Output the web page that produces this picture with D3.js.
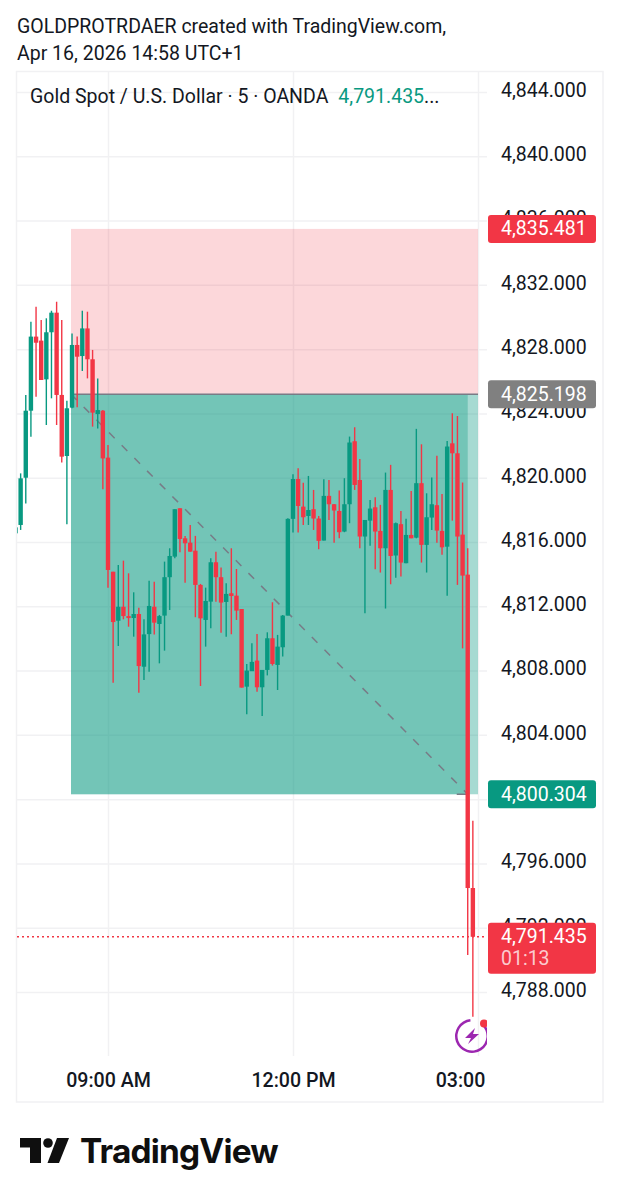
<!DOCTYPE html>
<html>
<head>
<meta charset="utf-8">
<script src="https://cdnjs.cloudflare.com/ajax/libs/d3/7.8.5/d3.min.js"></script>
<style>
  html, body { margin: 0; padding: 0; background: #fff; }
  svg { display: block; font-family: Roboto, sans-serif; }
</style>
</head>
<body>
<svg></svg>
<script>
// 5 min candles, first one is 07:30
const firstBar = 450;
const opens = [
  4816.54, 4817.06, 4820.00, 4824.17, 4828.78, 4828.53, 4826.12, 4829.05, 4830.27, 4825.15,
  4821.35, 4824.36, 4828.26, 4827.57, 4829.29, 4827.37, 4823.96, 4824.17, 4821.25, 4814.15,
  4811.10, 4811.97, 4811.39, 4811.27, 4811.52, 4808.24, 4810.27, 4811.97, 4810.90, 4811.42,
  4813.81, 4815.09, 4818.10, 4816.23, 4815.96, 4815.46, 4813.33, 4811.15, 4812.29, 4814.74,
  4813.81, 4812.27, 4812.81, 4812.66, 4811.83, 4807.00, 4807.96, 4808.62, 4806.96, 4808.04,
  4810.01, 4808.35, 4809.45, 4811.42, 4817.44, 4819.92, 4818.20, 4817.62, 4818.04, 4817.46,
  4816.09, 4818.87, 4818.35, 4817.93, 4816.65, 4818.35, 4822.27, 4819.86, 4816.34, 4817.33,
  4818.16, 4816.69, 4815.61, 4819.24, 4815.16, 4817.11, 4814.68, 4816.44, 4816.27, 4819.66,
  4815.82, 4817.52, 4818.29, 4816.69, 4815.71, 4822.14, 4821.52, 4816.46, 4813.97, 4794.47
];
const highs = [
  4817.06, 4820.27, 4825.15, 4829.71, 4830.64, 4829.81, 4829.92, 4830.39, 4830.95, 4829.81,
  4824.79, 4828.98, 4828.78, 4830.39, 4830.33, 4827.95, 4826.18, 4824.21, 4822.03, 4814.15,
  4814.57, 4814.84, 4814.05, 4812.87, 4811.91, 4811.19, 4813.59, 4813.53, 4811.46, 4814.78,
  4815.61, 4818.04, 4818.10, 4816.38, 4817.06, 4816.38, 4813.39, 4813.16, 4814.99, 4815.40,
  4814.41, 4813.43, 4815.61, 4814.32, 4811.83, 4808.41, 4809.70, 4810.28, 4808.04, 4810.38,
  4812.25, 4810.22, 4811.46, 4817.48, 4820.21, 4820.59, 4819.69, 4820.11, 4819.24, 4817.62,
  4819.91, 4819.86, 4818.37, 4819.20, 4819.97, 4822.56, 4823.14, 4821.17, 4817.37, 4818.62,
  4818.79, 4818.31, 4820.32, 4820.80, 4817.21, 4817.93, 4817.44, 4819.18, 4823.04, 4822.08,
  4819.03, 4820.01, 4821.36, 4818.99, 4822.29, 4824.01, 4823.84, 4819.70, 4815.61, 4798.66
];
const lows = [
  4816.23, 4816.75, 4818.40, 4822.55, 4825.04, 4826.08, 4823.28, 4824.94, 4823.28, 4820.94,
  4817.10, 4824.32, 4824.38, 4826.64, 4826.18, 4823.18, 4823.07, 4819.28, 4813.16, 4807.24,
  4809.53, 4811.19, 4810.73, 4810.11, 4806.62, 4807.41, 4807.93, 4810.25, 4808.45, 4809.24,
  4811.77, 4814.99, 4815.36, 4813.47, 4815.40, 4811.32, 4807.04, 4809.49, 4810.63, 4812.29,
  4810.36, 4810.11, 4810.26, 4811.15, 4806.94, 4805.28, 4808.00, 4806.69, 4805.18, 4807.70,
  4808.31, 4806.79, 4808.87, 4811.42, 4816.59, 4816.59, 4817.06, 4817.06, 4816.75, 4815.55,
  4816.09, 4817.37, 4815.96, 4816.23, 4816.61, 4817.17, 4819.24, 4815.61, 4811.57, 4815.76,
  4814.30, 4814.10, 4811.86, 4813.37, 4813.78, 4813.85, 4814.68, 4816.23, 4816.23, 4814.72,
  4814.10, 4816.75, 4815.96, 4815.20, 4812.65, 4817.33, 4813.33, 4809.38, 4790.30, 4786.46
];
const closes = [
  4816.91, 4819.96, 4824.17, 4828.78, 4828.40, 4826.08, 4829.05, 4830.27, 4825.15, 4821.31,
  4824.32, 4828.26, 4827.53, 4829.29, 4827.37, 4824.05, 4824.21, 4821.20, 4814.26, 4811.02,
  4811.97, 4811.39, 4811.27, 4811.52, 4808.28, 4810.25, 4812.02, 4810.98, 4811.39, 4813.81,
  4815.13, 4818.04, 4816.19, 4815.92, 4815.40, 4813.33, 4811.25, 4812.33, 4814.74, 4813.81,
  4812.23, 4812.77, 4812.64, 4811.73, 4806.94, 4808.00, 4808.54, 4806.96, 4808.04, 4810.01,
  4808.41, 4809.49, 4811.42, 4817.44, 4819.92, 4818.24, 4817.54, 4817.99, 4817.46, 4816.07,
  4818.87, 4818.35, 4817.96, 4816.61, 4818.35, 4822.19, 4819.55, 4816.34, 4817.37, 4818.08,
  4816.65, 4815.61, 4819.24, 4815.13, 4817.17, 4814.72, 4816.44, 4816.23, 4819.66, 4815.82,
  4817.54, 4818.35, 4816.71, 4815.67, 4821.94, 4821.52, 4816.34, 4813.91, 4794.47, 4791.435
];

const priceTicks = [4788, 4792, 4796, 4800, 4804, 4808, 4812, 4816, 4820, 4824, 4828, 4832, 4836, 4840, 4844];
const timeTicks = [540, 720, 900];
const timeLabels = ["09:00 AM", "12:00 PM", "03:00"];

// long position tool
const entry = 4825.198, stop = 4835.481, target = 4800.304, lastPrice = 4791.435;
const boxStart = 504, boxEnd = 900, boxInnerEnd = 890;

const RED = "#f23645", GREEN = "#089981", TEXT = "#131722", GRID = "#f1f1f3";

var bars = opens.map((o, i) => ({ t: firstBar + i * 5, o: o, h: highs[i], l: lows[i], c: closes[i] }));

var svg = d3.select("svg").attr("width", 620).attr("height", 1200);

var x = d3.scaleLinear().domain([540, 720]).range([108, 293]);
var y = d3.scaleLinear().domain([4788, 4844]).range([992, 92]);

svg.append("clipPath").attr("id", "pane")
  .append("rect").attr("x", 17).attr("y", 72).attr("width", 470).attr("height", 984);

// header
svg.append("text").attr("x", 17).attr("y", 33).attr("font-size", 19.5).attr("fill", TEXT)
  .text("GOLDPROTRDAER created with TradingView.com,");
svg.append("text").attr("x", 17).attr("y", 60).attr("font-size", 19.5).attr("fill", TEXT)
  .text("Apr 16, 2026 14:58 UTC+1");

// frame
svg.append("rect").attr("x", 16.5).attr("y", 71.5).attr("width", 586.5).attr("height", 1030.5)
  .attr("fill", "none").attr("stroke", GRID).attr("stroke-width", 1.5);

// axes, tick lines used as grid
var yAxis = d3.axisRight(y).tickValues(priceTicks).tickFormat(d3.format(",.3f"))
  .tickSize(470).tickPadding(14);
var xAxis = d3.axisBottom(x).tickValues(timeTicks).tickFormat((d, i) => timeLabels[i])
  .tickSize(984).tickPadding(14);

var gy = svg.append("g").attr("transform", "translate(17,0)").call(yAxis);
var gx = svg.append("g").attr("transform", "translate(0,72)").call(xAxis);
gy.select(".domain").remove();
gx.select(".domain").remove();
svg.selectAll(".tick line").attr("stroke", GRID).attr("stroke-width", 1.5);
gy.selectAll("text").attr("font-family", "Roboto").attr("font-size", 19.5).attr("fill", TEXT).attr("dy", "0.22em");
gx.selectAll("text").attr("font-family", "Roboto").attr("font-size", 19.6).attr("font-weight", 500)
  .attr("fill", TEXT).attr("dy", "0.85em");
gx.selectAll(".tick").filter(d => d === 900).select("text").attr("dx", -18);

// position boxes
var chart = svg.append("g").attr("clip-path", "url(#pane)");
chart.append("rect").attr("x", x(boxStart)).attr("y", y(stop))
  .attr("width", x(boxEnd) - x(boxStart)).attr("height", y(entry) - y(stop))
  .attr("fill", RED).attr("fill-opacity", 0.2);
chart.append("rect").attr("x", x(boxStart)).attr("y", y(entry))
  .attr("width", x(boxEnd) - x(boxStart)).attr("height", y(target) - y(entry))
  .attr("fill", GREEN).attr("fill-opacity", 0.36);
chart.append("rect").attr("x", x(boxStart)).attr("y", y(entry))
  .attr("width", x(boxInnerEnd) - x(boxStart)).attr("height", y(target) - y(entry))
  .attr("fill", GREEN).attr("fill-opacity", 0.32);
chart.append("line").attr("x1", x(boxStart)).attr("x2", x(boxEnd)).attr("y1", y(entry)).attr("y2", y(entry))
  .attr("stroke", "#787b86").attr("stroke-width", 1.5);
chart.append("line").attr("x1", x(boxStart)).attr("x2", x(boxInnerEnd)).attr("y1", y(entry)).attr("y2", y(target))
  .attr("stroke", "#787b86").attr("stroke-width", 1.5).attr("stroke-dasharray", "8,10");
chart.append("line").attr("x1", x(boxInnerEnd) - 11).attr("x2", x(boxInnerEnd)).attr("y1", y(target)).attr("y2", y(target))
  .attr("stroke", "#787b86").attr("stroke-width", 1.5);

// candles
var candles = chart.selectAll("g.candle").data(bars).enter().append("g").attr("class", "candle");
candles.append("line")
  .attr("x1", d => x(d.t)).attr("x2", d => x(d.t))
  .attr("y1", d => y(d.h)).attr("y2", d => y(d.l))
  .attr("stroke", d => d.c >= d.o ? GREEN : RED).attr("stroke-width", 1.4);
candles.append("rect")
  .attr("x", d => x(d.t) - 2.2).attr("width", 4.4)
  .attr("y", d => y(Math.max(d.o, d.c)))
  .attr("height", d => Math.max(1, Math.abs(y(d.o) - y(d.c))))
  .attr("fill", d => d.c >= d.o ? GREEN : RED);

// last price line
chart.append("line").attr("x1", 17).attr("x2", 487).attr("y1", y(lastPrice)).attr("y2", y(lastPrice))
  .attr("stroke", RED).attr("stroke-width", 1.4).attr("stroke-dasharray", "2,3");

// price labels
function priceLabel(value, color, h, sub) {
  var top = y(value) - 14;
  svg.append("rect").attr("x", 488).attr("y", top).attr("width", 108).attr("height", h)
    .attr("rx", 3).attr("fill", color);
  svg.append("text").attr("x", 501).attr("y", top + 20.5).attr("font-size", 19.5).attr("fill", "#fff")
    .text(d3.format(",.3f")(value));
  if (sub) {
    svg.append("text").attr("x", 501).attr("y", top + 42.5).attr("font-size", 19.5)
      .attr("fill", "#fff").attr("fill-opacity", 0.75).text(sub);
  }
}
priceLabel(stop, RED, 28);
priceLabel(entry, "#808080", 28);
priceLabel(target, GREEN, 28);
priceLabel(lastPrice, RED, 51, "01:13");

// legend
var legend = svg.append("text").attr("x", 30).attr("y", 103).attr("font-size", 19.5).attr("fill", TEXT);
legend.append("tspan").text("Gold Spot / U.S. Dollar · 5 · OANDA");
legend.append("tspan").attr("dx", 10).attr("fill", GREEN).text("4,791.435");
legend.append("tspan").text("...");

// alert icon
var iconClip = svg.append("g").attr("clip-path", "url(#pane)");
var icon = iconClip.append("g").attr("transform", "translate(472,1036)");
icon.append("path").attr("d", d3.arc().innerRadius(14.5).outerRadius(17).startAngle(0.75).endAngle(2 * Math.PI - 0.1)())
  .attr("fill", "#9c27b0");
icon.append("path").attr("d", "M3 -8 L-7 2 L-1 2 L-4 8 L7 -2 L1 -2 Z").attr("fill", "#9c27b0");
icon.append("circle").attr("cx", 12).attr("cy", -12.5).attr("r", 4).attr("fill", RED);

// logo
var logo = svg.append("g").attr("fill", "#0f0f0f");
logo.append("path").attr("d", "M20 1138 H41 V1163 H30 V1147.5 H20 Z");
logo.append("circle").attr("cx", 48).attr("cy", 1143).attr("r", 4.8);
logo.append("path").attr("d", "M57 1138 H69 L59 1163 H47.5 Z");
logo.append("text").attr("x", 80).attr("y", 1163).attr("font-family", "Inter").attr("font-weight", 700)
  .attr("font-size", 33.4).attr("letter-spacing", -0.8).text("TradingView");
</script>
</body>
</html>
